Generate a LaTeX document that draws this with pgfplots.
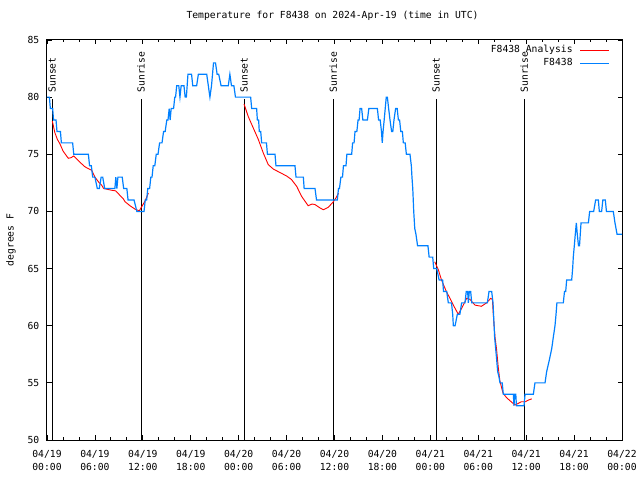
\documentclass[border=0pt]{standalone}
\usepackage{fontspec}
\setmainfont{DejaVu Sans Mono}
\usepackage{pgfplots}
\pgfplotsset{compat=1.18}
\definecolor{obsblue}{RGB}{0,128,255}
\newcommand\gpfont{\fontsize{9.7bp}{13.5bp}\selectfont}
\begin{document}
\gpfont
\begin{tikzpicture}
\begin{axis}[
  name=ax,
  scale only axis, width=575bp, height=400bp,
  xmin=0, xmax=72, ymin=50, ymax=85,
  xtick={0,6,...,72},
  xticklabels={{04/19\\00:00},{04/19\\06:00},{04/19\\12:00},{04/19\\18:00},
               {04/20\\00:00},{04/20\\06:00},{04/20\\12:00},{04/20\\18:00},
               {04/21\\00:00},{04/21\\06:00},{04/21\\12:00},{04/21\\18:00},
               {04/22\\00:00}},
  minor x tick num=2,
  ytick={50,55,...,85},
  xtick pos=both, ytick pos=both,
  xticklabel pos=lower, yticklabel pos=left,
  tick align=inside,
  major tick length=4.5bp, minor tick length=2.5bp,
  every tick/.style={black, line width=0.8bp},
  axis line style={line width=1bp},
  xticklabel style={align=center, anchor=north, inner sep=0pt, yshift=-10bp, font=\gpfont},
  yticklabel style={anchor=east, inner sep=0pt, xshift=-7.5bp, font=\gpfont},
  /pgf/number format/assume math mode=true,
  title={Temperature for F8438 on 2024-Apr-19 (time in UTC)},
  title style={at={(0.5,1)}, anchor=base, yshift=16bp, xshift=-2bp, inner sep=0pt, font=\gpfont},
  ylabel={degrees F},
  ylabel style={at={(axis description cs:-0.0626,0.5)}, anchor=center, inner sep=0pt, font=\gpfont},
  legend style={draw=none, fill=none, at={(1,1)}, anchor=north east,
    xshift=-12bp, yshift=-5.8bp, inner sep=0pt, row sep=3.7bp,
    /tikz/column sep=7bp, font=\gpfont,
    nodes={inner sep=0pt, text height=7bp, text depth=2bp}},
  legend cell align=right,
  legend plot pos=right,
  legend image code/.code={\draw[#1] (0bp,0bp) -- (29bp,0bp);},
  unbounded coords=jump,
]

% sunset / sunrise markers
\addplot[black, line width=1bp, forget plot] coordinates {(0.65,50) (0.65,79.8)};
\addplot[black, line width=1bp, forget plot] coordinates {(11.78,50) (11.78,79.8)};
\addplot[black, line width=1bp, forget plot] coordinates {(24.67,50) (24.67,79.8)};
\addplot[black, line width=1bp, forget plot] coordinates {(35.85,50) (35.85,79.8)};
\addplot[black, line width=1bp, forget plot] coordinates {(48.72,50) (48.72,79.8)};
\addplot[black, line width=1bp, forget plot] coordinates {(59.75,50) (59.75,79.8)};

\node[rotate=90, anchor=west, inner sep=0pt] at (axis cs:0.65,80.4) {Sunset};
\node[rotate=90, anchor=west, inner sep=0pt] at (axis cs:11.78,80.4) {Sunrise};
\node[rotate=90, anchor=west, inner sep=0pt] at (axis cs:24.67,80.4) {Sunset};
\node[rotate=90, anchor=west, inner sep=0pt] at (axis cs:35.85,80.4) {Sunrise};
\node[rotate=90, anchor=west, inner sep=0pt] at (axis cs:48.72,80.4) {Sunset};
\node[rotate=90, anchor=west, inner sep=0pt] at (axis cs:59.75,80.4) {Sunrise};

% analysis
\addplot[red, line width=0.9bp, mark=none] coordinates {
 (0.67,77.9) (0.98,76.9) (1.30,76.3) (1.63,75.9) (2.00,75.3) (2.35,74.95) (2.67,74.65)
 (3.00,74.7) (3.35,74.85) (3.72,74.6) (4.13,74.3) (4.76,73.9) (5.30,73.7) (5.60,73.6)
 (6.00,73.0) (6.43,72.6) (6.84,72.3) (7.10,72.0) (7.47,71.95) (8.10,71.85) (8.60,71.8)
 (9.14,71.4) (9.56,71.1) (9.77,70.85) (10.39,70.5) (11.02,70.2) (11.56,70.05) (11.85,70.4)
 (12.27,70.9) (12.69,71.6)
 (12.8,nan)
 (24.67,79.4) (25.20,78.3) (25.83,77.3) (26.46,76.3) (27.09,75.1) (27.70,74.1) (28.35,73.7)
 (29.18,73.4) (30.00,73.1) (30.60,72.8) (31.26,72.2) (31.90,71.3) (32.70,70.5) (33.20,70.65)
 (33.56,70.6) (34.20,70.3) (34.60,70.15) (35.20,70.35) (35.80,70.8) (36.20,71.2) (36.50,71.6)
 (36.6,nan)
 (48.55,65.6) (49.00,64.9) (49.40,64.0) (50.00,63.0) (50.46,62.4) (50.88,61.8) (51.50,61.0)
 (51.90,61.5) (52.55,62.4) (52.97,62.3) (53.60,61.8) (54.40,61.7) (55.05,62.0) (55.56,62.4)
 (55.77,62.3) (55.90,60.8) (56.10,59.0) (56.30,57.9) (56.50,56.4) (56.70,55.2) (57.10,54.1)
 (57.55,53.7) (58.20,53.3) (58.60,53.06) (59.00,53.2) (59.40,53.35) (59.90,53.35) (60.30,53.5)
 (60.70,53.6)
};
\addlegendentry{F8438 Analysis}

% observations
\addplot[obsblue, line width=1.2bp, mark=none] coordinates {
 (0.00,80) (0.30,80) (0.42,79) (0.71,79) (0.82,78) (1.13,78) (1.25,77) (1.68,77) (1.80,76)
 (3.21,76) (3.35,75) (5.18,75) (5.33,74) (5.55,74) (5.72,73) (6.00,73) (6.30,72) (6.55,72)
 (6.78,73) (6.98,73) (7.22,72) (8.50,72) (8.62,73) (8.75,72) (8.88,73) (9.42,73) (9.60,72)
 (10.00,72) (10.15,71) (10.90,71) (11.25,70) (12.15,70) (12.30,71) (12.48,71) (12.62,72)
 (12.85,72) (13.00,73) (13.15,73) (13.30,74) (13.50,74) (13.68,75) (13.90,75) (14.10,76)
 (14.40,76) (14.60,77) (14.80,77) (15.00,78) (15.15,78) (15.30,79) (15.42,78) (15.55,79)
 (15.85,79) (16.00,80) (16.10,80) (16.24,81) (16.50,81) (16.65,80) (16.80,81) (17.15,81)
 (17.30,80) (17.45,80) (17.65,82) (18.10,82) (18.25,81) (18.74,81) (18.95,82) (20.00,82)
 (20.20,81) (20.40,80) (20.60,81) (20.85,83) (21.10,83) (21.30,82) (21.50,82) (21.80,81)
 (22.70,81) (22.90,82) (23.10,81) (23.40,81) (23.60,80) (25.50,80) (25.63,79) (26.25,79)
 (26.34,78) (26.50,78) (26.58,77) (26.76,77) (26.88,76) (27.48,76) (27.60,75) (28.55,75)
 (28.67,74) (31.05,74) (31.18,73) (32.10,73) (32.20,72) (33.56,72) (33.75,71) (36.35,71)
 (36.50,72) (36.62,72) (36.80,73) (37.00,73) (37.12,74) (37.44,74) (37.55,75) (38.15,75)
 (38.27,76) (38.45,76) (38.57,77) (38.80,77) (38.95,78) (39.08,78) (39.20,79) (39.40,79)
 (39.55,78) (40.12,78) (40.30,79) (41.37,79) (41.52,78) (41.72,78) (41.88,77) (41.98,76)
 (42.08,77) (42.22,78) (42.35,79) (42.48,80) (42.62,80) (42.78,79) (42.95,78) (43.15,77)
 (43.30,77) (43.45,78) (43.65,79) (43.85,79) (44.00,78) (44.15,78) (44.30,77) (44.50,77)
 (44.62,76) (44.85,76) (45.00,75) (45.45,75) (45.62,74) (45.70,73) (45.80,72) (45.92,70)
 (46.05,68.5) (46.20,68) (46.40,67) (47.70,67) (47.85,66) (48.30,66) (48.42,65) (48.80,65)
 (49.10,64) (49.54,64) (49.65,63) (50.05,63) (50.25,62) (50.65,62) (50.80,61) (50.88,60)
 (51.10,60) (51.38,61) (51.70,61) (51.92,62) (52.34,62) (52.50,63) (52.67,63) (52.76,62)
 (52.88,63) (53.05,63) (53.18,62) (55.14,62) (55.35,63) (55.68,63) (55.85,62) (55.95,60.5)
 (56.05,59) (56.18,58) (56.31,57) (56.43,56) (56.60,55.5) (56.72,55) (57.00,55) (57.14,54)
 (58.39,54) (58.48,53) (58.56,54) (58.70,54) (58.78,53) (59.73,53) (59.86,54) (60.90,54)
 (61.10,55) (62.36,55) (62.57,56) (62.90,57) (63.20,58) (63.40,59) (63.61,60) (63.74,61)
 (63.85,62) (64.65,62) (64.80,63) (64.95,63) (65.07,64) (65.70,64) (65.82,65) (65.90,66)
 (66.03,67) (66.15,68) (66.28,69) (66.40,68) (66.55,67) (66.68,67) (66.87,69) (67.79,69)
 (67.95,70) (68.45,70) (68.70,71) (69.04,71) (69.16,70) (69.45,70) (69.60,71) (69.91,71)
 (70.05,70) (70.91,70) (71.12,69) (71.38,68) (72.00,68)
};
\addlegendentry{F8438}
\end{axis}
\pgfresetboundingbox
\path[use as bounding box] ([shift={(-47bp,-40bp)}]ax.south west) rectangle ([shift={(18bp,40bp)}]ax.north east);
\end{tikzpicture}
\end{document}
